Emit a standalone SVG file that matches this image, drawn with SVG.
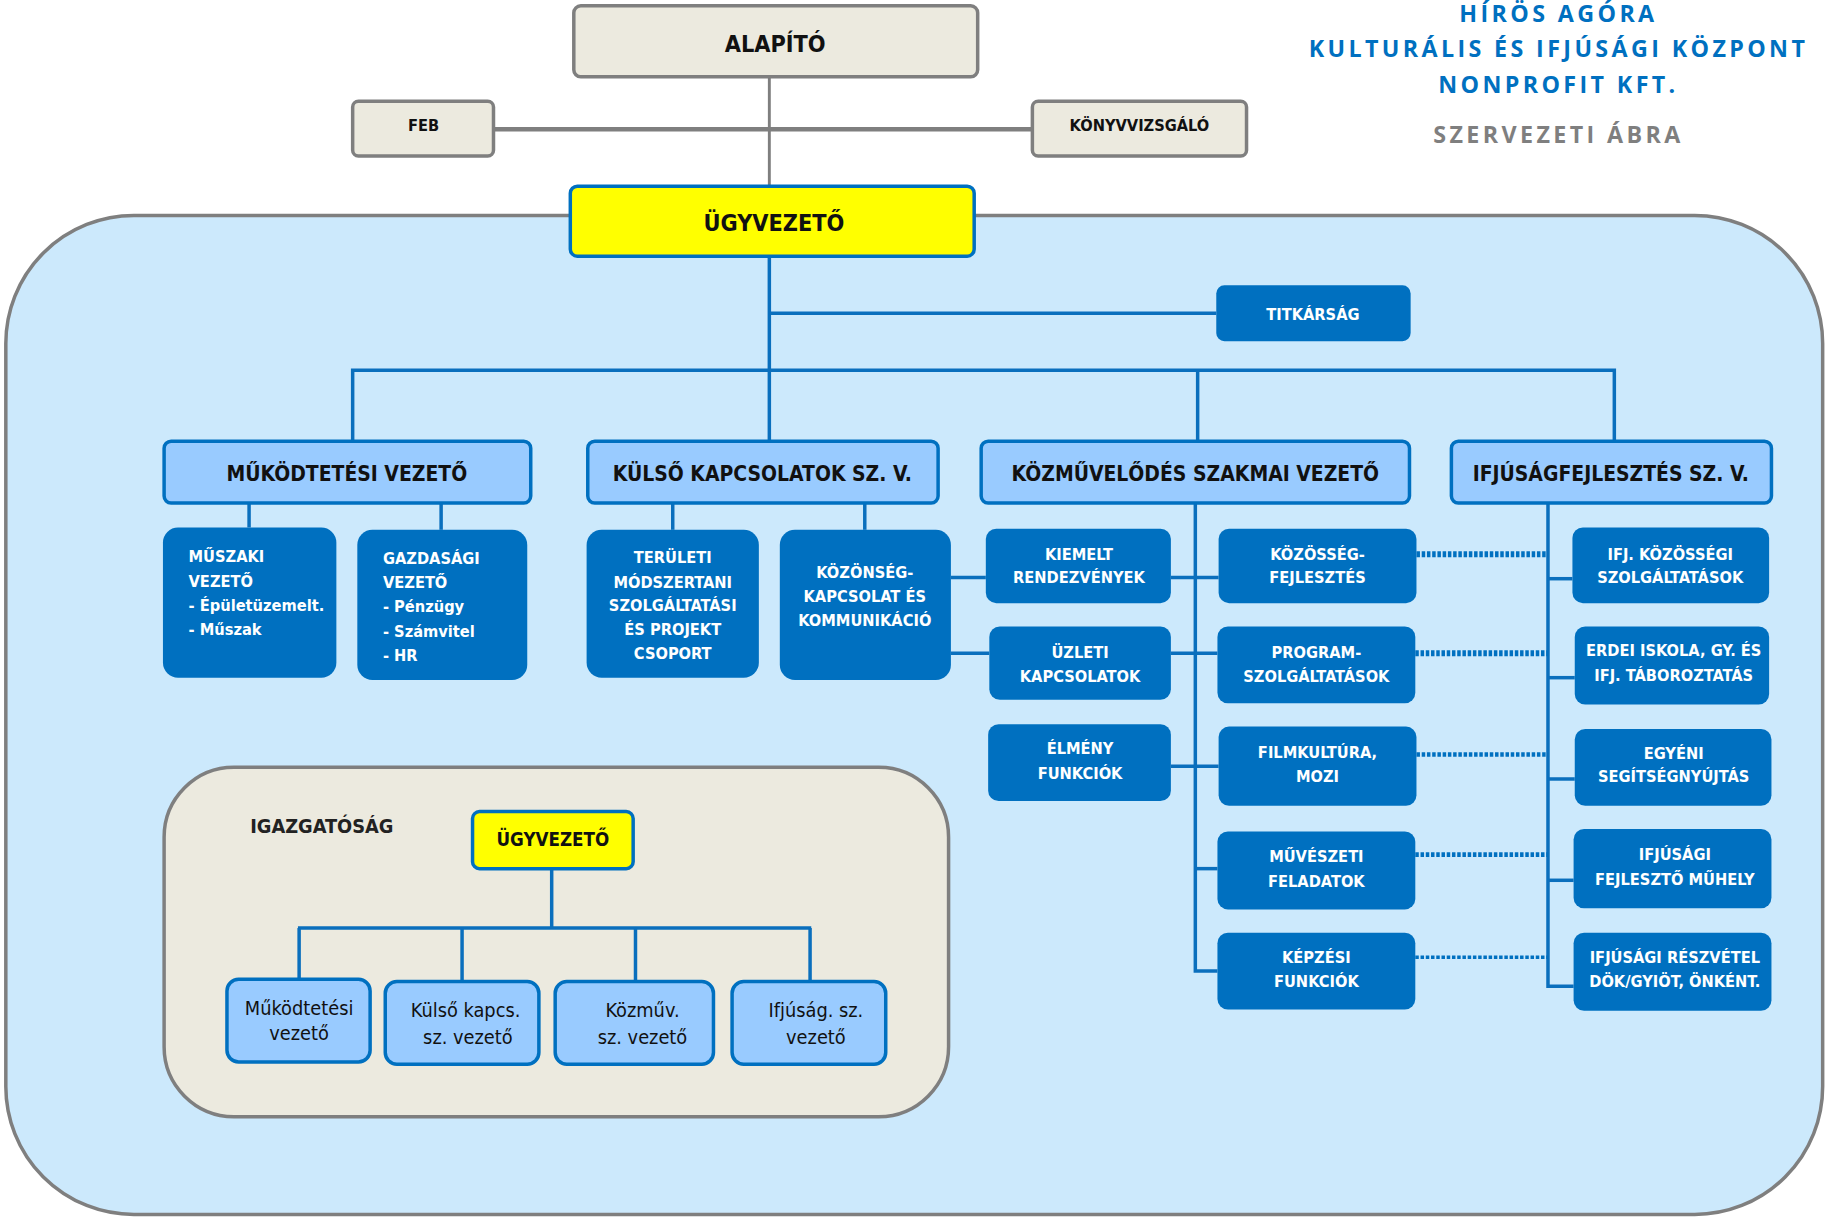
<svg xmlns="http://www.w3.org/2000/svg" width="1825" height="1218" viewBox="0 0 1825 1218">
<style>
text{font-family:"Liberation Sans Narrow","DejaVu Sans Condensed","Liberation Sans",sans-serif;text-anchor:middle;dominant-baseline:central}
.beige{fill:#eceadf;stroke:#7f7f7f;stroke-width:3}
.yel{fill:#ffff00;stroke:#0070c0;stroke-width:3}
.lb{fill:#99cbff;stroke:#0070c0;stroke-width:3}
.db{fill:#0070c0}
.gl{stroke:#7f7f7f;fill:none}
.bl{stroke:#0a6fbd;fill:none;stroke-width:3}
.dot{stroke:#0070c0;fill:none;stroke-dasharray:3 1.5}
.tk{fill:#111;font-weight:bold}
.tw{fill:#fff;font-weight:bold;font-size:14px}
.tn{fill:#111;font-size:17px}
.title{font-family:"Open Sans","Liberation Sans",sans-serif;font-weight:bold;font-size:20px;letter-spacing:2.9px;fill:#0070c0}
</style>
<rect width="1825" height="1218" fill="#fff"/>
<g transform="scale(1.1639 1.1644)">
<g id="background">
<rect x="5" y="185" width="1561" height="858" rx="110" ry="110" fill="#cce9fc" stroke="#7f7f7f" stroke-width="3"/>
</g>
<g id="title">
<text class="title" x="1339" y="11">HÍRÖS AGÓRA</text>
<text class="title" x="1339" y="41">KULTURÁLIS ÉS IFJÚSÁGI KÖZPONT</text>
<text class="title" x="1339" y="72">NONPROFIT KFT.</text>
<text class="title" x="1339" y="115" style="fill:#7f7f7f">SZERVEZETI ÁBRA</text>
</g>
<g id="connectors">
<line class="gl" x1="661" y1="66" x2="661" y2="160" stroke-width="2.5"/>
<line class="gl" x1="424" y1="111" x2="887" y2="111" stroke-width="4"/>
<line class="bl" x1="661" y1="220" x2="661" y2="379"/>
<line class="bl" x1="661" y1="269" x2="1045" y2="269"/>
<polyline class="bl" points="303,379 303,318 1387,318 1387,379"/>
<line class="bl" x1="1029" y1="318" x2="1029" y2="379"/>
<line class="bl" x1="214" y1="432" x2="214" y2="453"/>
<line class="bl" x1="379" y1="432" x2="379" y2="455"/>
<line class="bl" x1="578" y1="432" x2="578" y2="455"/>
<line class="bl" x1="743" y1="432" x2="743" y2="455"/>
<line class="bl" x1="817" y1="496" x2="847" y2="496"/>
<line class="bl" x1="817" y1="561" x2="850" y2="561"/>
<polyline class="bl" points="1027,432 1027,834 1046,834" stroke-width="4"/>
<line class="bl" x1="1006" y1="496" x2="1047" y2="496"/>
<line class="bl" x1="1006" y1="561" x2="1046" y2="561"/>
<line class="bl" x1="1006" y1="658" x2="1047" y2="658"/>
<line class="bl" x1="1027" y1="746" x2="1046" y2="746" stroke-width="4"/>
<polyline class="bl" points="1330,432 1330,847 1352,847" stroke-width="4"/>
<line class="bl" x1="1330" y1="497" x2="1351" y2="497" stroke-width="4"/>
<line class="bl" x1="1330" y1="582" x2="1353" y2="582" stroke-width="4"/>
<line class="bl" x1="1330" y1="669" x2="1353" y2="669" stroke-width="4"/>
<line class="bl" x1="1330" y1="756" x2="1352" y2="756" stroke-width="4"/>
<line class="dot" x1="1217" y1="476" x2="1330" y2="476" stroke-width="5"/>
<line class="dot" x1="1216" y1="561" x2="1330" y2="561" stroke-width="5"/>
<line class="dot" x1="1217" y1="648" x2="1330" y2="648" stroke-width="4"/>
<line class="dot" x1="1216" y1="734" x2="1330" y2="734" stroke-width="4"/>
<line class="dot" x1="1216" y1="822" x2="1330" y2="822" stroke-width="3"/>
</g>
<g id="alapito"><rect class="beige" x="493" y="5" width="347" height="61" rx="6"/><text class="tk" x="666" y="37" font-size="20">ALAPÍTÓ</text></g>
<g id="feb"><rect class="beige" x="303" y="87" width="121" height="47" rx="5"/><text class="tk" x="364" y="108" font-size="14">FEB</text></g>
<g id="konyvvizsgalo"><rect class="beige" x="887" y="87" width="184" height="47" rx="5"/><text class="tk" x="979" y="108" font-size="14">KÖNYVVIZSGÁLÓ</text></g>
<g id="ugyvezeto"><rect class="yel" x="490" y="160" width="347" height="60" rx="6"/><text class="tk" x="665" y="191" font-size="20">ÜGYVEZETŐ</text></g>
<g id="titkarsag"><rect class="db" x="1045" y="245" width="167" height="48" rx="7"/><text class="tw" x="1128" y="270">TITKÁRSÁG</text></g>
<g id="mukodtetesi"><rect class="lb" x="141" y="379" width="315" height="53" rx="6"/><text class="tk" x="298" y="407" font-size="18">MŰKÖDTETÉSI VEZETŐ</text></g>
<g id="kulso"><rect class="lb" x="505" y="379" width="301" height="53" rx="6"/><text class="tk" x="655" y="407" font-size="18">KÜLSŐ KAPCSOLATOK SZ. V.</text></g>
<g id="kozmuvelodes"><rect class="lb" x="843" y="379" width="368" height="53" rx="6"/><text class="tk" x="1027" y="407" font-size="18">KÖZMŰVELŐDÉS SZAKMAI VEZETŐ</text></g>
<g id="ifjusagfejlesztes"><rect class="lb" x="1247" y="379" width="275" height="53" rx="6"/><text class="tk" x="1384" y="407" font-size="18">IFJÚSÁGFEJLESZTÉS SZ. V.</text></g>
<g id="muszaki"><rect class="db" x="140" y="453" width="149" height="129" rx="13"/>
<text class="tw" x="162" y="478" style="text-anchor:start">MŰSZAKI</text><text class="tw" x="162" y="499" style="text-anchor:start">VEZETŐ</text><text class="tw" x="162" y="520" style="text-anchor:start">- Épületüzemelt.</text><text class="tw" x="162" y="541" style="text-anchor:start">- Műszak</text></g>
<g id="gazdasagi"><rect class="db" x="307" y="455" width="146" height="129" rx="13"/>
<text class="tw" x="329" y="480" style="text-anchor:start">GAZDASÁGI</text><text class="tw" x="329" y="500" style="text-anchor:start">VEZETŐ</text><text class="tw" x="329" y="521" style="text-anchor:start">- Pénzügy</text><text class="tw" x="329" y="542" style="text-anchor:start">- Számvitel</text><text class="tw" x="329" y="563" style="text-anchor:start">- HR</text></g>
<g id="teruleti"><rect class="db" x="504" y="455" width="148" height="127" rx="13"/>
<text class="tw" x="578" y="479">TERÜLETI</text><text class="tw" x="578" y="500">MÓDSZERTANI</text><text class="tw" x="578" y="520">SZOLGÁLTATÁSI</text><text class="tw" x="578" y="541">ÉS PROJEKT</text><text class="tw" x="578" y="561">CSOPORT</text></g>
<g id="kozonseg"><rect class="db" x="670" y="455" width="147" height="129" rx="13"/>
<text class="tw" x="743" y="492">KÖZÖNSÉG-</text><text class="tw" x="743" y="512">KAPCSOLAT ÉS</text><text class="tw" x="743" y="533">KOMMUNIKÁCIÓ</text></g>
<g id="kiemelt"><rect class="db" x="847" y="454" width="159" height="64" rx="9"/><text class="tw" x="927" y="476">KIEMELT</text><text class="tw" x="927" y="496">RENDEZVÉNYEK</text></g>
<g id="uzleti"><rect class="db" x="850" y="538" width="156" height="63" rx="9"/><text class="tw" x="928" y="560">ÜZLETI</text><text class="tw" x="928" y="581">KAPCSOLATOK</text></g>
<g id="elmeny"><rect class="db" x="849" y="622" width="157" height="66" rx="9"/><text class="tw" x="928" y="643">ÉLMÉNY</text><text class="tw" x="928" y="664">FUNKCIÓK</text></g>
<g id="kozossegfejl"><rect class="db" x="1047" y="454" width="170" height="64" rx="9"/><text class="tw" x="1132" y="476">KÖZÖSSÉG-</text><text class="tw" x="1132" y="496">FEJLESZTÉS</text></g>
<g id="program"><rect class="db" x="1046" y="538" width="170" height="66" rx="9"/><text class="tw" x="1131" y="560">PROGRAM-</text><text class="tw" x="1131" y="581">SZOLGÁLTATÁSOK</text></g>
<g id="film"><rect class="db" x="1047" y="624" width="170" height="68" rx="9"/><text class="tw" x="1132" y="646">FILMKULTÚRA,</text><text class="tw" x="1132" y="667">MOZI</text></g>
<g id="muveszeti"><rect class="db" x="1046" y="714" width="170" height="67" rx="9"/><text class="tw" x="1131" y="736">MŰVÉSZETI</text><text class="tw" x="1131" y="757">FELADATOK</text></g>
<g id="kepzesi"><rect class="db" x="1046" y="801" width="170" height="66" rx="9"/><text class="tw" x="1131" y="822">KÉPZÉSI</text><text class="tw" x="1131" y="843">FUNKCIÓK</text></g>
<g id="ifjkozossegi"><rect class="db" x="1351" y="453" width="169" height="65" rx="9"/><text class="tw" x="1435" y="476">IFJ. KÖZÖSSÉGI</text><text class="tw" x="1435" y="496">SZOLGÁLTATÁSOK</text></g>
<g id="erdei"><rect class="db" x="1353" y="538" width="167" height="67" rx="9"/><text class="tw" x="1438" y="559">ERDEI ISKOLA, GY. ÉS</text><text class="tw" x="1438" y="580">IFJ. TÁBOROZTATÁS</text></g>
<g id="egyeni"><rect class="db" x="1353" y="626" width="169" height="66" rx="9"/><text class="tw" x="1438" y="647">EGYÉNI</text><text class="tw" x="1438" y="667">SEGÍTSÉGNYÚJTÁS</text></g>
<g id="ifjmuhely"><rect class="db" x="1352" y="712" width="170" height="68" rx="9"/><text class="tw" x="1439" y="734">IFJÚSÁGI</text><text class="tw" x="1439" y="755">FEJLESZTŐ MŰHELY</text></g>
<g id="ifjreszvetel"><rect class="db" x="1352" y="801" width="170" height="67" rx="9"/><text class="tw" x="1439" y="822">IFJÚSÁGI RÉSZVÉTEL</text><text class="tw" x="1439" y="843">DÖK/GYIÖT, ÖNKÉNT.</text></g>
<g id="igazgatosag">
<rect class="beige" x="141" y="659" width="674" height="300" rx="60"/>
<text class="tk" x="215" y="710" font-size="17" style="text-anchor:start;fill:#222">IGAZGATÓSÁG</text>
<g id="ig-connectors">
<line class="bl" x1="474" y1="746" x2="474" y2="797"/>
<line class="bl" x1="256" y1="797" x2="697" y2="797" stroke-width="4"/>
<line class="bl" x1="257" y1="797" x2="257" y2="841" stroke-width="4"/>
<line class="bl" x1="397" y1="797" x2="397" y2="843"/>
<line class="bl" x1="546" y1="797" x2="546" y2="843"/>
<line class="bl" x1="696" y1="797" x2="696" y2="843"/>
</g>
<g id="ig-ugyvezeto"><rect class="yel" x="406" y="697" width="138" height="49" rx="6"/><text class="tk" x="475" y="721" font-size="16">ÜGYVEZETŐ</text></g>
<g id="ig-mukodtetesi"><rect class="lb" x="195" y="841" width="123" height="71" rx="10"/><text class="tn" x="257" y="866">Működtetési</text><text class="tn" x="257" y="888">vezető</text></g>
<g id="ig-kulso"><rect class="lb" x="331" y="843" width="132" height="71" rx="10"/><text class="tn" x="400" y="868">Külső kapcs.</text><text class="tn" x="402" y="891">sz. vezető</text></g>
<g id="ig-kozmuv"><rect class="lb" x="477" y="843" width="136" height="71" rx="10"/><text class="tn" x="552" y="868">Közműv.</text><text class="tn" x="552" y="891">sz. vezető</text></g>
<g id="ig-ifjusag"><rect class="lb" x="629" y="843" width="132" height="71" rx="10"/><text class="tn" x="701" y="868">Ifjúság. sz.</text><text class="tn" x="701" y="891">vezető</text></g>
</g>
</g>
</svg>
